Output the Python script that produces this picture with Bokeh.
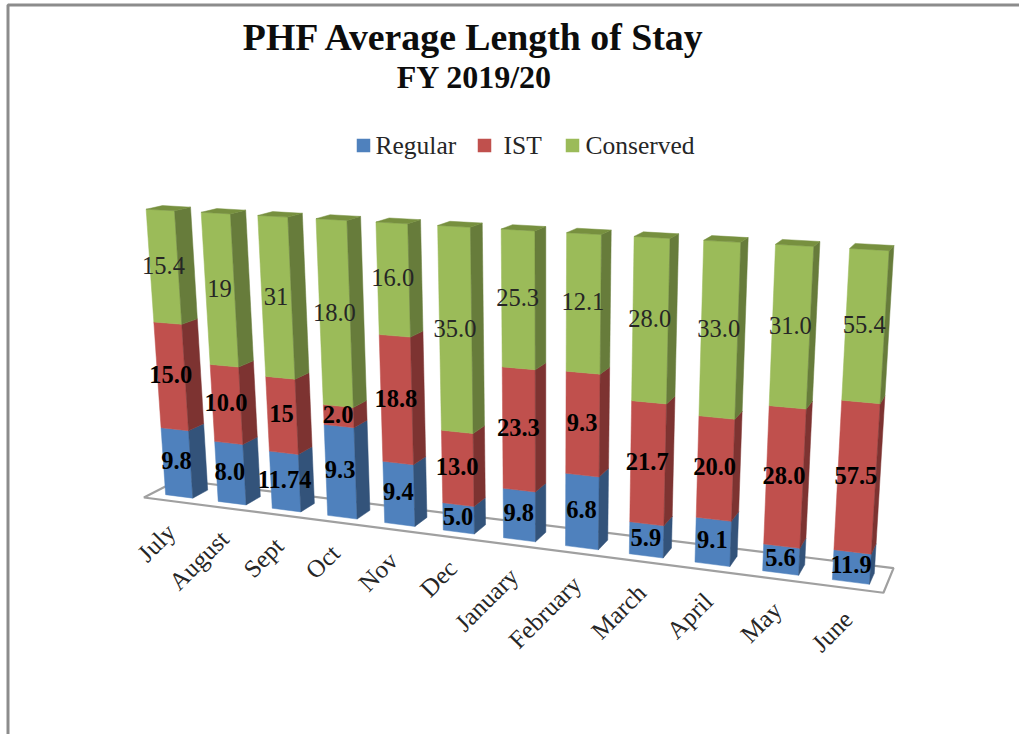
import numpy as np
from bokeh.plotting import figure
from bokeh.embed import file_html
from bokeh.resources import INLINE
from bokeh.core.properties import value

months = ["July", "August", "Sept", "Oct", "Nov", "Dec", "January", "February", "March", "April", "May", "June"]
regular = [9.8, 8.0, 11.74, 9.3, 9.4, 5.0, 9.8, 6.8, 5.9, 9.1, 5.6, 11.9]
ist = [15.0, 10.0, 15, 2.0, 18.8, 13.0, 23.3, 9.3, 21.7, 20.0, 28.0, 57.5]
conserved = [15.4, 19, 31, 18.0, 16.0, 35.0, 25.3, 12.1, 28.0, 33.0, 31.0, 55.4]
regular_txt = ["9.8", "8.0", "11.74", "9.3", "9.4", "5.0", "9.8", "6.8", "5.9", "9.1", "5.6", "11.9"]
ist_txt = ["15.0", "10.0", "15", "2.0", "18.8", "13.0", "23.3", "9.3", "21.7", "20.0", "28.0", "57.5"]
conserved_txt = ["15.4", "19", "31", "18.0", "16.0", "35.0", "25.3", "12.1", "28.0", "33.0", "31.0", "55.4"]
series_names = ["Regular", "IST", "Conserved"]

FONT = value("Liberation Serif")
FRONT = ["#4F81BD", "#C0504D", "#9BBB59"]
SIDE = ["#33537A", "#7D3331", "#677C3B"]
TOP_GREEN = "#77903F"

# camera: the plot box (category, depth, share) seen in perspective
box = {
    (0, 0, 0): (143, 497), (1, 0, 0): (883, 592), (1, 1, 0): (893, 568), (0, 1, 0): (178, 479.5),
    (0, 0, 1): (123, 210.6), (1, 0, 1): (904, 253.7), (1, 1, 1): (913.5, 243), (0, 1, 1): (159, 201.5),
}
A = []
for (a, b, c), (x, y) in box.items():
    A.append([a, b, c, 1, 0, 0, 0, 0, -x * a, -x * b, -x * c, -x])
    A.append([0, 0, 0, 0, a, b, c, 1, -y * a, -y * b, -y * c, -y])
P = np.linalg.svd(np.array(A, float))[2][-1].reshape(3, 4)


def proj(u, d, f):
    X = P @ np.array([u, d, f, 1.0])
    return X[0] / X[2], X[1] / X[2]


D0, D1 = 0.25, 0.70
n = len(months)
p = figure(width=1019, height=734, x_range=(0, 1019), y_range=(734, 0), output_backend="svg",
           toolbar_location=None, min_border=0, outline_line_color=None, background_fill_color="white",
           border_fill_color="white")
p.axis.visible = False
p.grid.visible = False

# chart frame
p.line([7.5, 7.5, 1019], [734, 4.5, 4.5], line_color="#8C8C8C", line_width=3)

# floor
fl = [proj(0, 0, 0), proj(1, 0, 0), proj(1, 1, 0), proj(0, 1, 0)]
p.patch([c[0] for c in fl], [c[1] for c in fl], fill_color="white", line_color="#A0A0A0", line_width=2.2)

fx, fy, fc = [], [], []
lab = {"x": [], "y": [], "t": []}
lab2 = {"x": [], "y": [], "t": []}


def quad(pts, col):
    fx.append([c[0] for c in pts])
    fy.append([c[1] for c in pts])
    fc.append(col)


for i in range(n):
    vals = [regular[i], ist[i], conserved[i]]
    texts = [regular_txt[i], ist_txt[i], conserved_txt[i]]
    tot = sum(vals)
    u0, u1 = (i + 0.25) / n, (i + 0.77) / n
    um = (i + 0.5) / n
    base = 0.0
    for s, v in enumerate(vals):
        top = base + v / tot
        quad([proj(u0, D0, base), proj(u1, D0, base), proj(u1, D0, top), proj(u0, D0, top)], FRONT[s])
        quad([proj(u1, D0, base), proj(u1, D1, base), proj(u1, D1, top), proj(u1, D0, top)], SIDE[s])
        lx, ly = proj(um, D0, (base + top) / 2)
        d = lab2 if s == 2 else lab
        d["x"].append(lx)
        d["y"].append(ly - 2)
        d["t"].append(texts[s])
        base = top
    quad([proj(u0, D0, 1), proj(u1, D0, 1), proj(u1, D1, 1), proj(u0, D1, 1)], TOP_GREEN)

p.patches(fx, fy, fill_color=fc, line_color=fc, line_width=0.5)

p.text(lab["x"], lab["y"], text=lab["t"], text_font=FONT, text_font_size="24.5px", text_font_style="bold",
       text_color="#000000", text_align="center", text_baseline="middle")
p.text(lab2["x"], lab2["y"], text=lab2["t"], text_font=FONT, text_font_size="24.5px",
       text_color="#262626", text_align="center", text_baseline="middle")

# category labels
cx, cy = [], []
for i in range(n):
    x, y = proj((i + 0.5) / n, 0, 0)
    cx.append(x + 1)
    cy.append(y + 27)
p.text(cx, cy, text=months, text_font=FONT, text_font_size="25px", text_color="#262626", angle=45,
       angle_units="deg", text_align="right", text_baseline="middle")

# titles
p.text([474], [36], text=["PHF Average Length of Stay"], text_font=FONT, text_font_size="37.8px", text_font_style="bold",
       text_color="#0D0D0D", text_align="center", text_baseline="middle")
p.text([474], [76], text=["FY 2019/20"], text_font=FONT, text_font_size="32px", text_font_style="bold",
       text_color="#0D0D0D", text_align="center", text_baseline="middle")

# legend
p.rect([363, 484, 572], [145, 145, 145], width=13.5, height=13.5, fill_color=FRONT, line_color=None)
p.text([375, 503, 585], [145, 145, 145], text=series_names, text_font=FONT, text_font_size="25.5px", text_color="#262626",
       text_align="left", text_baseline="middle")

open("out.html", "w").write(file_html(p, INLINE))
